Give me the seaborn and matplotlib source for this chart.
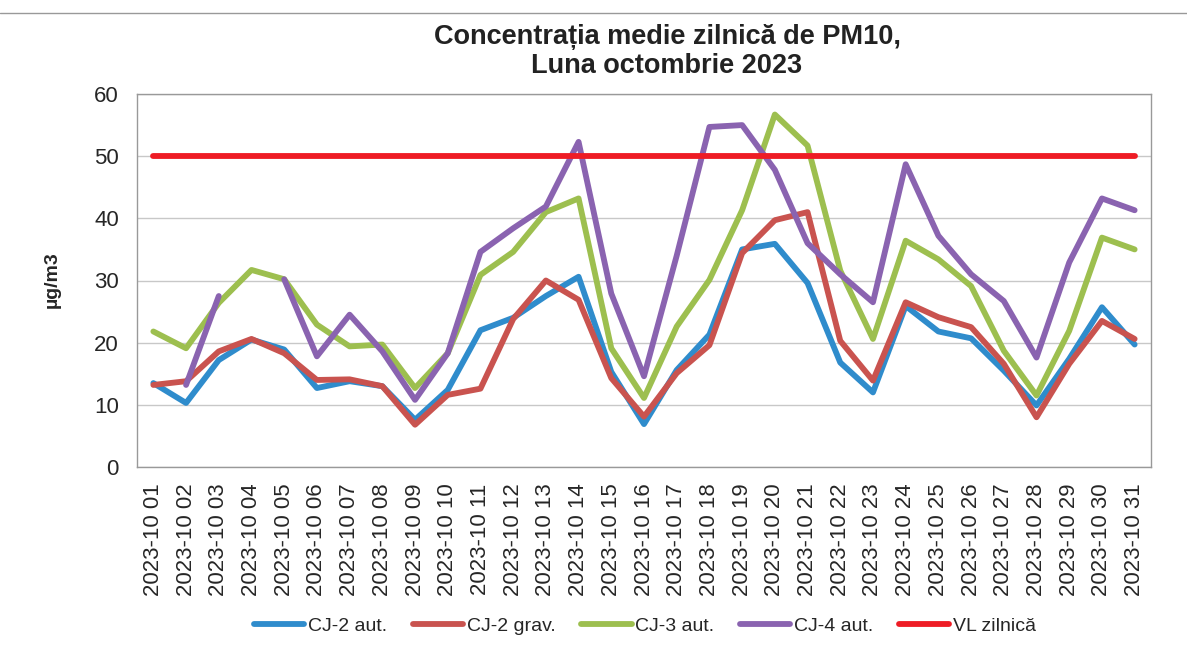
import numpy as np
import pandas as pd
import matplotlib.pyplot as plt
import seaborn as sns
from matplotlib.lines import Line2D

sns.set_style('white')
plt.rcParams['font.family'] = ['Liberation Sans', 'DejaVu Sans']

# date labels for October 2023
dates = ['2023-10 01', '2023-10 02', '2023-10 03', '2023-10 04', '2023-10 05',
         '2023-10 06', '2023-10 07', '2023-10 08', '2023-10 09', '2023-10 10',
         '2023-10 11', '2023-10 12', '2023-10 13', '2023-10 14', '2023-10 15',
         '2023-10 16', '2023-10 17', '2023-10 18', '2023-10 19', '2023-10 20',
         '2023-10 21', '2023-10 22', '2023-10 23', '2023-10 24', '2023-10 25',
         '2023-10 26', '2023-10 27', '2023-10 28', '2023-10 29', '2023-10 30',
         '2023-10 31']

nan = np.nan
cj2_aut = [13.5, 10.3, 17.2, 20.5, 18.9, 12.7, 13.8, 13.0, 7.6, 12.4,
           22.0, 24.0, 27.5, 30.6, 15.3, 6.9, 15.6, 21.3, 35.0, 35.9,
           29.6, 16.8, 12.0, 25.9, 21.8, 20.7, 15.5, 9.9, 17.4, 25.7, 19.7]
cj2_grav = [13.2, 13.8, 18.6, 20.6, 18.3, 14.0, 14.1, 13.0, 6.8, 11.6,
            12.6, 23.8, 30.0, 26.9, 14.3, 8.1, 15.1, 19.6, 34.4, 39.7,
            41.0, 20.3, 13.9, 26.5, 24.1, 22.5, 16.6, 8.0, 16.6, 23.5, 20.6]
cj3_aut = [21.8, 19.1, 26.4, 31.7, 30.2, 22.9, 19.4, 19.7, 12.7, 18.3,
           30.9, 34.6, 41.0, 43.2, 19.1, 11.1, 22.6, 30.1, 41.3, 56.7,
           51.7, 31.6, 20.6, 36.4, 33.4, 29.1, 18.7, 11.5, 21.9, 36.9, 35.0]
cj4_aut = [nan, 13.2, 27.5, nan, 30.2, 17.8, 24.5, 18.6, 10.8, 18.3,
           34.6, 38.4, 41.9, 52.3, 27.9, 14.6, 34.0, 54.7, 55.0, 47.8,
           36.0, 31.0, 26.5, 48.7, 37.2, 31.0, 26.7, 17.6, 32.9, 43.2, 41.3]
vl_zilnica = [50] * len(dates)

series_names = ['CJ-2 aut.', 'CJ-2 grav.', 'CJ-3 aut.', 'CJ-4 aut.', 'VL zilnică']
series_values = [cj2_aut, cj2_grav, cj3_aut, cj4_aut, vl_zilnica]
colors = ['#2f8ccc', '#c9534f', '#9dbf4f', '#8a63b0', '#ee1c25']
palette = dict(zip(series_names, colors))

# long table; a new unit starts after every gap so lines break at missing days
rows = []
for name, vals in zip(series_names, series_values):
    seg, gap = 0, True
    for i, v in enumerate(vals):
        if np.isnan(v):
            gap = True
            continue
        if gap:
            seg += 1
            gap = False
        rows.append({'zi': i, 'valoare': v, 'serie': name, 'seg': seg})
df = pd.DataFrame(rows)

W, H = 1187, 668
fig = plt.figure(figsize=(W / 100, H / 100), dpi=100)
ax = fig.add_axes([137 / W, 1 - 467 / H, (1151 - 137) / W, (467 - 94) / H])

sns.lineplot(data=df, x='zi', y='valoare', hue='serie', units='seg',
             estimator=None, hue_order=series_names, palette=palette,
             lw=4.2, sort=False, legend=False, ax=ax)
for line in ax.lines:
    line.set_solid_capstyle('round')
    line.set_solid_joinstyle('round')

ax.set_xlim(-0.5, len(dates) - 0.5)
ax.set_ylim(0, 60)
ax.set_yticks(range(0, 61, 10))
ax.yaxis.grid(True, color='#c8c8c8', lw=1)
ax.xaxis.grid(False)
ax.set_axisbelow(True)

ax.set_xticks(range(len(dates)))
ax.set_xticklabels(dates, rotation=90, fontsize=16)
ax.set_xticks(np.arange(-0.5, len(dates), 1), minor=True)
ax.tick_params(axis='x', which='major', length=0, pad=12)
ax.tick_params(axis='x', which='minor', length=5, color='#888888', width=1)
ax.tick_params(axis='y', length=5, color='#888888', width=1, labelsize=16, pad=8)
for s in ax.spines.values():
    s.set_color('#999999')
    s.set_linewidth(1)
ax.set_xlabel('')
ax.set_ylabel('')

fig.text(52 / W, 1 - 280 / H, 'µg/m3', rotation=90, ha='center', va='center',
         fontsize=14, fontweight='bold')
fig.text(667 / W, 1 - 24 / H, 'Concentrația medie zilnică de PM10,\nLuna octombrie 2023',
         ha='center', va='top', fontsize=19.5, fontweight='bold',
         linespacing=1.15, color='#222222')

handles = [Line2D([], [], color=c, lw=4.2, solid_capstyle='round') for c in colors]
fig.legend(handles, series_names, loc='center', bbox_to_anchor=(645 / W, 1 - 626 / H),
           ncol=5, frameon=False, fontsize=14, handlelength=2.6,
           handletextpad=0.2, columnspacing=1.3)

# chart area border line at the top
fig.add_artist(Line2D([0, 1], [1 - 13 / H] * 2, transform=fig.transFigure,
                      color='#999999', lw=1))

fig.savefig('out.png', dpi=100)
plt.close(fig)
